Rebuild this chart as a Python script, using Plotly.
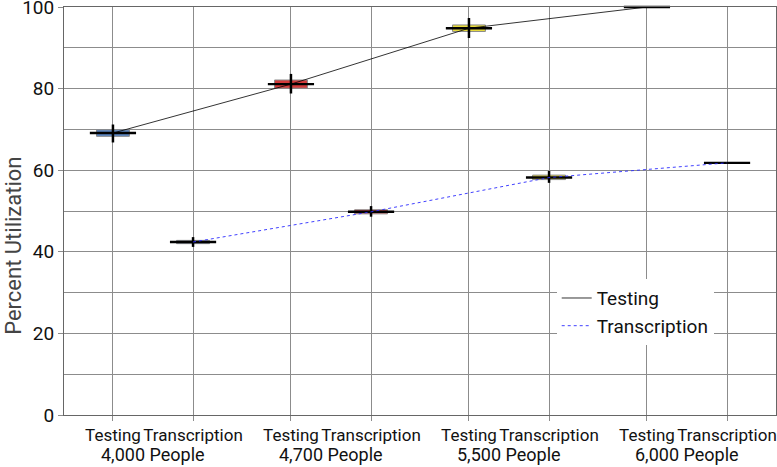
import plotly.graph_objects as go

# ---- data ----
groups = ["4,000 People", "4,700 People", "5,500 People", "6,000 People"]
categories = ["Testing", "Transcription"]
testing_pos = [0.0, 2.0, 4.0, 6.0]
transcription_pos = [0.9, 2.9, 4.9, 6.9]

testing_median = [69.1, 81.1, 94.8, 100.0]
testing_q1 = [68.3, 80.1, 94.0, 100.0]
testing_q3 = [69.9, 82.1, 95.6, 100.0]
testing_low = [66.8, 78.8, 92.4, 100.0]
testing_high = [71.2, 83.6, 97.3, 100.0]

transcription_median = [42.4, 49.8, 58.2, 61.8]
transcription_q1 = [42.0, 49.3, 57.7, 61.8]
transcription_q3 = [42.8, 50.3, 58.8, 61.8]
transcription_low = [41.2, 48.6, 56.9, 61.8]
transcription_high = [43.6, 51.2, 59.8, 61.8]

group_colors = ["#5b87c4", "#d43b3b", "#e8db3c", "#ffffff"]

FONT = "Liberation Sans Narrow, Arial Narrow, Roboto, Liberation Sans, sans-serif"

fig = go.Figure()

BOXW = 0.37

def add_boxes(pos, q1, med, q3, lo, hi):
    for i in range(len(pos)):
        fig.add_trace(go.Box(
            x=[pos[i]], q1=[q1[i]], median=[med[i]], q3=[q3[i]],
            lowerfence=[q1[i]], upperfence=[q3[i]],
            width=BOXW, whiskerwidth=0,
            fillcolor=group_colors[i],
            line=dict(color="#8a8a8a", width=1),
            showlegend=False, hoverinfo="skip", boxpoints=False,
        ))
        # whiskers through the box
        fig.add_trace(go.Scatter(
            x=[pos[i]], y=[med[i]], mode="markers",
            marker=dict(size=0.1, color="black"),
            error_y=dict(type="data", symmetric=False,
                         array=[hi[i] - med[i]], arrayminus=[med[i] - lo[i]],
                         color="black", thickness=2.5, width=0),
            showlegend=False, hoverinfo="skip", cliponaxis=False,
        ))
        # median line
        fig.add_trace(go.Scatter(
            x=[pos[i]], y=[med[i]], mode="markers",
            marker=dict(symbol="line-ew", size=33,
                        line=dict(color="black", width=2.4)),
            showlegend=False, hoverinfo="skip", cliponaxis=False,
        ))

add_boxes(testing_pos, testing_q1, testing_median, testing_q3, testing_low, testing_high)
add_boxes(transcription_pos, transcription_q1, transcription_median, transcription_q3,
          transcription_low, transcription_high)

fig.add_trace(go.Scatter(
    x=testing_pos, y=testing_median, mode="lines", name="Testing",
    line=dict(color="black", width=0.8),
))
fig.add_trace(go.Scatter(
    x=transcription_pos, y=transcription_median, mode="lines", name="Transcription",
    line=dict(color="#2b2bff", width=0.9, dash="dot"),
))

tickvals = []
ticktext = []
for a, b in zip(testing_pos, transcription_pos):
    tickvals += [a, b]
    ticktext += categories

for i, g in enumerate(groups):
    fig.add_annotation(
        x=(testing_pos[i] + transcription_pos[i]) / 2, xref="x",
        y=-0.098, yref="paper", yanchor="middle",
        text=g, showarrow=False,
        font=dict(family=FONT, size=18, color="#111"),
    )

fig.add_annotation(
    x=-0.072, xref="paper", y=0.414, yref="paper",
    text="Percent Utilization", textangle=-90, showarrow=False,
    xanchor="center", yanchor="middle",
    font=dict(family=FONT, size=22, color="#444"),
)

grid = "#8c8c8c"
fig.update_layout(
    width=777, height=467,
    margin=dict(l=64, r=1, t=7, b=52),
    paper_bgcolor="white", plot_bgcolor="white",
    font=dict(family=FONT, size=17, color="#111"),
    showlegend=True,
    legend=dict(
        x=0.692, y=0.333, xanchor="left", yanchor="top",
        bgcolor="white", borderwidth=0,
        font=dict(family=FONT, size=19, color="#111"),
        tracegroupgap=0, itemwidth=30,
    ),
    xaxis=dict(
        range=[-0.55, 7.45], tickmode="array", tickvals=tickvals, ticktext=ticktext,
        tickangle=0, automargin=False,
        showgrid=True, gridcolor=grid, gridwidth=1,
        ticks="outside", ticklen=5, tickcolor=grid,
        showline=True, linecolor="#666", linewidth=1, mirror=True,
        zeroline=False, tickfont=dict(family=FONT, size=17, color="#111"),
    ),
    yaxis=dict(
        range=[0, 100], tickmode="array", tickvals=[0, 20, 40, 60, 80, 100],
        automargin=False, ticklabeloverflow="allow",
        showgrid=True, gridcolor=grid, gridwidth=1,
        minor=dict(dtick=10, showgrid=True, gridcolor=grid, gridwidth=1, ticks=""),
        ticks="outside", ticklen=5, tickcolor=grid,
        showline=True, linecolor="#666", linewidth=1, mirror=True,
        zeroline=False, tickfont=dict(family=FONT, size=19, color="#111"),
    ),
)

fig.write_html("out.html", config={"displayModeBar": False},
               post_script="document.body.style.margin='0';")
